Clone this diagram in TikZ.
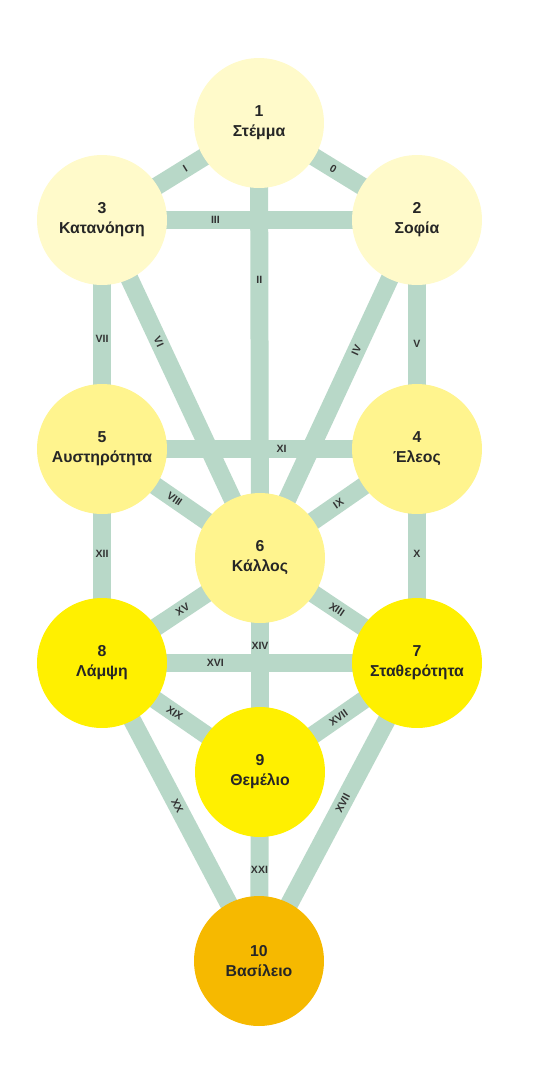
\documentclass[tikz,border=0pt]{standalone}
\usepackage{fontspec}
\setmainfont{Liberation Sans}
\usetikzlibrary{backgrounds}
\definecolor{pathgreen}{HTML}{B8D8C8}
\definecolor{paleyellow}{HTML}{FFFACA}
\definecolor{midyellow}{HTML}{FFF48E}
\definecolor{brightyellow}{HTML}{FFF000}
\definecolor{deepgold}{HTML}{F6B900}
\tikzset{
	sefira/.style={circle,minimum size=2.6cm,inner sep=0pt,align=center,text=black!85,font=\fontsize{9}{11.4}\selectfont\bfseries},
	pathway/.style={line width=0.36cm,color=pathgreen},
	num/.style={text=black!80,inner sep=1pt,font=\fontsize{6}{7}\selectfont\bfseries}
}
\begin{document}
\begin{tikzpicture}[x=0.02cm,y=-0.02cm]
	\useasboundingbox (0,0) rectangle (538,1080);
	
	\node[sefira,fill=paleyellow] (stemma) at (259,123) {1\\Στέμμα};
	\node[sefira,fill=paleyellow] (katanoisi) at (102,220) {3\\Κατανόηση};
	\node[sefira,fill=paleyellow] (sofia) at (417,220) {2\\Σοφία};
	\node[sefira,fill=midyellow] (afstirotita) at (102,449) {5\\Αυστηρότητα};
	\node[sefira,fill=midyellow] (eleos) at (417,449) {4\\Έλεος};
	\node[sefira,fill=midyellow] (kallos) at (260,558) {6\\Κάλλος};
	\node[sefira,fill=brightyellow] (lampsi) at (102,663) {8\\Λάμψη};
	\node[sefira,fill=brightyellow] (statherotita) at (417,663) {7\\Σταθερότητα};
	\node[sefira,fill=brightyellow] (themelio) at (260,772) {9\\Θεμέλιο};
	\node[sefira,fill=deepgold] (vasileio) at (259,961) {10\\Βασίλειο};
	
	\begin{pgfonlayer}{background}
	\draw[pathway] (stemma.center) -- node[num,sloped,pos=.47]{0} (sofia.center);
	\draw[pathway] (stemma.center) -- node[num,sloped,pos=.47]{I} (katanoisi.center);
	\draw[pathway] (stemma.center) -- node[num,pos=.36]{II} (kallos.center);
	\draw[pathway] (katanoisi.center) -- node[num,pos=.36]{III} (sofia.center);
	\draw[pathway] (sofia.center) -- node[num,sloped,pos=.385]{IV} (kallos.center);
	\draw[pathway] (sofia.center) -- node[num,pos=.54]{V} (eleos.center);
	\draw[pathway] (katanoisi.center) -- node[num,sloped,pos=.36]{VI} (kallos.center);
	\draw[pathway] (katanoisi.center) -- node[num,pos=.52]{VII} (afstirotita.center);
	\draw[pathway] (afstirotita.center) -- node[num,sloped,pos=.46]{VIII} (kallos.center);
	\draw[pathway] (eleos.center) -- node[num,sloped,pos=.5]{IX} (kallos.center);
	\draw[pathway] (eleos.center) -- node[num,pos=.49]{X} (statherotita.center);
	\draw[pathway] (afstirotita.center) -- node[num,pos=.57]{XI} (eleos.center);
	\draw[pathway] (afstirotita.center) -- node[num,pos=.49]{XII} (lampsi.center);
	\draw[pathway] (kallos.center) -- node[num,sloped,pos=.49]{XIII} (statherotita.center);
	\draw[pathway] (kallos.center) -- node[num,pos=.41]{XIV} (themelio.center);
	\draw[pathway] (kallos.center) -- node[num,sloped,pos=.49]{XV} (lampsi.center);
	\draw[pathway] (lampsi.center) -- node[num,pos=.36]{XVI} (statherotita.center);
	\draw[pathway] (themelio.center) -- node[num,sloped,pos=.5]{XVII} (statherotita.center);
	\draw[pathway] (statherotita.center) -- node[num,sloped,pos=.47]{XVII} (vasileio.center);
	\draw[pathway] (lampsi.center) -- node[num,sloped,pos=.46]{XIX} (themelio.center);
	\draw[pathway] (lampsi.center) -- node[num,sloped,pos=.48]{XX} (vasileio.center);
	\draw[pathway] (themelio.center) -- node[num,pos=.52]{XXI} (vasileio.center);
	\end{pgfonlayer}
	
\end{tikzpicture}
\end{document}
